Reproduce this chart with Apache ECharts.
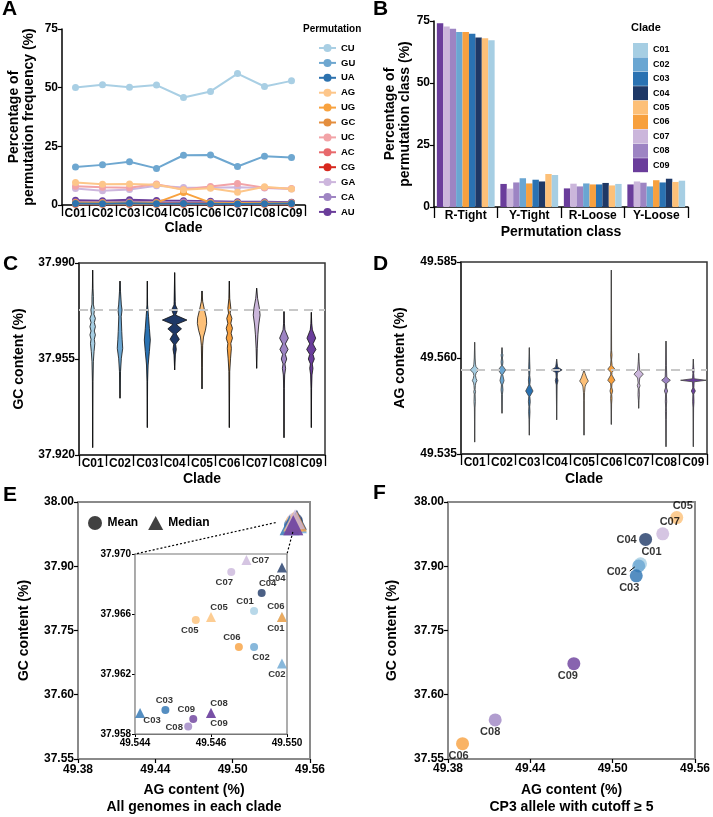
<!DOCTYPE html>
<html><head><meta charset="utf-8">
<script src="https://cdn.jsdelivr.net/npm/echarts@6/dist/echarts.min.js"></script>
<style>html,body{margin:0;padding:0;background:#fff}#c{width:713px;height:817px}</style>
</head><body><div id="c"></div><script>
// ---------- shared ----------
const clades = ['C01','C02','C03','C04','C05','C06','C07','C08','C09'];
const cladeColors = ['#a6cee3','#6aa6d2','#2a72b2','#1e3866','#fdc078','#f7a03e','#cbb6db','#9d84c3','#6a3d9b'];

// ---------- A: permutation frequency ----------
const permNames = ['CU','GU','UA','AG','UG','GC','UC','AC','CG','GA','CA','AU'];
const permColors = ['#a9cfe4','#6ea7d0','#2d72ae','#fdc68a','#f8a23f','#e48e3e','#f2a3a7','#e8696c','#d7281e','#cdb6dd','#9f85c3','#6a3d9a'];
const freqCU = [50.1, 51.2, 50.2, 51.1, 45.8, 48.4, 56.0, 50.5, 52.9];
const freqGU = [16.2, 17.1, 18.4, 15.6, 21.2, 21.3, 16.4, 20.8, 20.2];
const freqUA = [0.6, 0.5, 0.7, 0.5, 0.6, 0.5, 0.4, 0.5, 0.6];
const freqAG = [9.6, 8.8, 9.0, 8.6, 6.5, 7.1, 5.4, 7.8, 6.8];
const freqUG = [1.0, 1.0, 1.0, 1.0, 5.3, 1.0, 0.8, 0.8, 0.8];
const freqGC = [0.5, 0.4, 0.5, 0.4, 0.5, 0.4, 0.5, 0.4, 0.5];
const freqUC = [8.0, 7.6, 7.4, 8.9, 6.6, 7.9, 9.2, 7.4, 7.0];
const freqAC = [1.0, 0.8, 0.9, 0.8, 0.9, 0.8, 0.7, 0.8, 0.7];
const freqCG = [0.3, 0.3, 0.3, 0.3, 0.3, 0.3, 0.3, 0.3, 0.3];
const freqGA = [7.0, 6.1, 6.6, 8.2, 7.5, 7.4, 7.6, 7.2, 6.8];
const freqCA = [1.3, 1.2, 1.4, 1.2, 1.3, 1.2, 1.0, 1.1, 1.0];
const freqAU = [2.0, 1.8, 2.2, 1.9, 1.8, 1.6, 1.4, 1.4, 1.2];
const permValues = [freqCU, freqGU, freqUA, freqAG, freqUG, freqGC, freqUC, freqAC, freqCG, freqGA, freqCA, freqAU];

// ---------- B: permutation class ----------
const permClasses = ['R-Tight','Y-Tight','R-Loose','Y-Loose'];
const classC01 = [67.2, 12.9, 9.3, 10.6];
const classC02 = [70.6, 11.6, 9.5, 8.3];
const classC03 = [69.9, 11.0, 9.1, 9.9];
const classC04 = [68.3, 10.3, 9.7, 11.4];
const classC05 = [68.0, 13.3, 8.7, 10.1];
const classC06 = [70.6, 9.5, 9.1, 10.8];
const classC07 = [72.8, 7.4, 9.4, 10.3];
const classC08 = [71.9, 9.9, 8.3, 9.8];
const classC09 = [74.1, 9.3, 7.5, 9.1];
const classValues = [classC01, classC02, classC03, classC04, classC05, classC06, classC07, classC08, classC09];
const barOrder = [8, 6, 7, 1, 5, 2, 3, 4, 0];

// ---------- C: GC content violins [value, relative half width] ----------
const gcRef = 37.9728;
const gcTicks = [37.920, 37.955, 37.990];
const gcC01 = [[37.9874,0],[37.9808,0.02],[37.9777,0.05],[37.9750,0.05],[37.9729,0.13],[37.9713,0.09],[37.9698,0.2],[37.9683,0.12],[37.9668,0.2],[37.9652,0.12],[37.9638,0.2],[37.9622,0.12],[37.9607,0.16],[37.9577,0.1],[37.9540,0.05],[37.9467,0.02],[37.9227,0]];
const gcC02 = [[37.9834,0],[37.9795,0.04],[37.9747,0.1],[37.9729,0.15],[37.9704,0.09],[37.9650,0.13],[37.9620,0.16],[37.9589,0.2],[37.9553,0.1],[37.9504,0.04],[37.9407,0]];
const gcC03 = [[37.9834,0],[37.9747,0.02],[37.9704,0.09],[37.9662,0.15],[37.9619,0.22],[37.9577,0.15],[37.9528,0.06],[37.9467,0.02],[37.9300,0]];
const gcC04 = [[37.9865,0],[37.9760,0.04],[37.9747,0.05],[37.9729,0.22],[37.9710,0.07],[37.9692,0.9],[37.9676,0.12],[37.9660,0.5],[37.9642,0.1],[37.9622,0.34],[37.9604,0.07],[37.9585,0.12],[37.9565,0.05],[37.9510,0]];
const gcC05 = [[37.9798,0],[37.9760,0.05],[37.9729,0.18],[37.9700,0.32],[37.9680,0.34],[37.9655,0.25],[37.9630,0.11],[37.9600,0.05],[37.9520,0.02],[37.9441,0]];
const gcC06 = [[37.9834,0],[37.9771,0.03],[37.9735,0.11],[37.9717,0.06],[37.9698,0.19],[37.9680,0.11],[37.9662,0.23],[37.9644,0.13],[37.9626,0.23],[37.9607,0.11],[37.9589,0.15],[37.9553,0.09],[37.9504,0.03],[37.9300,0]];
const gcC07 = [[37.9808,0],[37.9771,0.07],[37.9735,0.2],[37.9710,0.25],[37.9674,0.15],[37.9638,0.09],[37.9589,0.04],[37.9516,0]];
const gcC08 = [[37.9723,0],[37.9680,0.03],[37.9656,0.07],[37.9626,0.32],[37.9605,0.1],[37.9585,0.3],[37.9567,0.1],[37.9550,0.2],[37.9532,0.07],[37.9516,0.12],[37.9492,0.05],[37.9443,0.02],[37.9263,0]];
const gcC09 = [[37.9720,0],[37.9680,0.03],[37.9656,0.08],[37.9626,0.32],[37.9605,0.12],[37.9585,0.34],[37.9567,0.12],[37.9550,0.22],[37.9532,0.07],[37.9516,0.12],[37.9492,0.05],[37.9443,0.02],[37.9300,0]];
const gcViolins = [gcC01, gcC02, gcC03, gcC04, gcC05, gcC06, gcC07, gcC08, gcC09];

// ---------- D: AG content violins ----------
const agRef = 49.5570;
const agTicks = [49.535, 49.560, 49.585];
const agC01 = [[49.5641,0],[49.5600,0.03],[49.5584,0.06],[49.5577,0.1],[49.5569,0.32],[49.5561,0.1],[49.5554,0.06],[49.5547,0.1],[49.5541,0.17],[49.5535,0.08],[49.5528,0.05],[49.5518,0.03],[49.5512,0.07],[49.5506,0.03],[49.5486,0.05],[49.5470,0.02],[49.5381,0]];
const agC02 = [[49.5627,0],[49.5612,0.03],[49.5608,0.07],[49.5600,0.03],[49.5590,0.07],[49.5580,0.04],[49.5569,0.27],[49.5557,0.05],[49.5541,0.15],[49.5530,0.04],[49.5517,0.07],[49.5505,0.03],[49.5456,0]];
const agC03 = [[49.5627,0],[49.5590,0.03],[49.5569,0.05],[49.5555,0.03],[49.5543,0.07],[49.5530,0.04],[49.5514,0.27],[49.5500,0.04],[49.5486,0.07],[49.5473,0.03],[49.5460,0.05],[49.5440,0.02],[49.5399,0]];
const agC04 = [[49.5597,0],[49.5585,0.04],[49.5576,0.08],[49.5569,0.4],[49.5562,0.06],[49.5550,0.04],[49.5541,0.1],[49.5530,0.03],[49.5439,0]];
const agC05 = [[49.5569,0],[49.5560,0.08],[49.5548,0.2],[49.5540,0.32],[49.5532,0.15],[49.5525,0.08],[49.5510,0.04],[49.5490,0.02],[49.5399,0]];
const agC06 = [[49.5829,0],[49.5620,0.02],[49.5608,0.05],[49.5595,0.02],[49.5580,0.06],[49.5571,0.26],[49.5563,0.05],[49.5556,0.04],[49.5542,0.26],[49.5533,0.05],[49.5524,0.03],[49.5514,0.1],[49.5505,0.03],[49.5495,0.05],[49.5480,0.02],[49.5427,0]];
const agC07 = [[49.5612,0],[49.5590,0.03],[49.5568,0.08],[49.5558,0.34],[49.5548,0.08],[49.5535,0.04],[49.5528,0.1],[49.5520,0.03],[49.5504,0.05],[49.5490,0.02],[49.5469,0]];
const agC08 = [[49.5644,0],[49.5580,0.03],[49.5550,0.06],[49.5542,0.32],[49.5534,0.05],[49.5522,0.04],[49.5514,0.12],[49.5506,0.03],[49.5486,0.05],[49.5470,0.02],[49.5460,0.04],[49.5440,0.02],[49.5369,0]];
const agC09 = [[49.5597,0],[49.5575,0.03],[49.5569,0.06],[49.5560,0.03],[49.5546,0.06],[49.5542,0.93],[49.5538,0.06],[49.5522,0.04],[49.5514,0.15],[49.5506,0.03],[49.5486,0.05],[49.5470,0.02],[49.5369,0]];
const agViolins = [agC01, agC02, agC03, agC04, agC05, agC06, agC07, agC08, agC09];

// ---------- E: mean / median per clade ----------
const meanAG   = [49.5487, 49.5487, 49.5452, 49.5490, 49.5464, 49.5481, 49.5478, 49.5461, 49.5463];
const meanGC   = [37.9662, 37.9638, 37.9596, 37.9674, 37.9656, 37.9638, 37.9688, 37.9585, 37.9590];
const medianAG = [49.5498, 49.5498, 49.5442, 49.5498, 49.5470, 49.5498, 49.5484, 49.5470, 49.5470];
const medianGC = [37.9658, 37.9627, 37.9594, 37.9691, 37.9658, 37.9658, 37.9696, 37.9594, 37.9594];
const outerGCTicks = [37.55, 37.6625, 37.775, 37.8875, 38.00];
const outerGCLabels = ['37.55', '37.60', '37.75', '37.90', '38.00'];
const insetAGRange = [49.544, 49.550];
const insetGCRange = [37.958, 37.970];
const insetAGTicks = [49.544, 49.547, 49.550];
const insetAGLabels = ['49.544', '49.546', '49.550'];
const insetGCTicks = [37.958, 37.962, 37.966, 37.970];

// ---------- F: CP3 allele ----------
const cp3AG = [49.5203, 49.5190, 49.5172, 49.5240, 49.5467, 49.3906, 49.5365, 49.4144, 49.4717];
const cp3GC = [37.8918, 37.8880, 37.8707, 37.9345, 37.9727, 37.5768, 37.9442, 37.6184, 37.7169];

// ---------- label placement (style only) ----------
const meanLabelOffset   = [[-9,-10],[7,10],[-1,-10],[6,-10],[-6,10],[-7,-10],[-7,10],[-14,1],[-7,-10]];
const medianLabelOffset = [[-6,11],[-5,11],[12,7],[-5,11],[8,-10],[-6,-11],[14,0],[8,-10],[8,10]];
const cp3LabelOffset    = [[11,-12],[-22,6],[-7,12],[-19,1],[6,-12],[-4,12],[7,-12],[-5,12],[-6,12]];

// ---------- helpers ----------
const FONT = 'Liberation Sans, Arial, Helvetica, sans-serif';
const B = (size) => ({fontFamily: FONT, fontWeight: 'bold', color: '#000', fontSize: size});
const lookup = (vals, labs) => v => { for (let k = 0; k < vals.length; k++) if (Math.abs(vals[k] - v) < 1e-7) return labs[k]; return ''; };

function catX(grid, data, name, gap, line) {
  return {gridIndex: grid, type: 'category', data: data,
    axisLine: {lineStyle: {color: line, width: 1.5}},
    axisTick: {show: true, interval: 0, length: 11, lineStyle: {color: '#000', width: 1.3}},
    axisLabel: Object.assign(B(12), {interval: 0, margin: 3}),
    name: name, nameLocation: 'middle', nameGap: gap, nameTextStyle: B(14)};
}
function valY(grid, opts, name, gap, line) {
  return Object.assign({gridIndex: grid, type: 'value', splitLine: {show: false},
    axisLine: {show: true, lineStyle: {color: line, width: 1.5}},
    axisTick: {show: true, length: 4, lineStyle: {color: '#000', width: 1.2}},
    axisLabel: Object.assign(B(12), {margin: 4}),
    name: name, nameLocation: 'middle', nameGap: gap, nameTextStyle: Object.assign(B(14), {lineHeight: 15})}, opts);
}

function violinSeries(profiles, xi, yi, stroke) {
  return {
    type: 'custom', xAxisIndex: xi, yAxisIndex: yi, z: 3, silent: true,
    encode: {x: 0, y: 1},
    data: profiles.map((p, i) => [i, p[0][0]]),
    renderItem(params, api) {
      const i = api.value(0);
      const prof = profiles[i];
      const band = api.size([1, 0])[0];
      const right = [], left = [];
      prof.forEach(([v, d]) => {
        const p = api.coord([i, v]);
        right.push([p[0] + d * band / 2, p[1]]);
        left.push([p[0] - d * band / 2, p[1]]);
      });
      const top = api.coord([i, prof[0][0]]);
      const bot = api.coord([i, prof[prof.length - 1][0]]);
      return {type: 'group', children: [
        {type: 'line', shape: {x1: top[0], y1: top[1], x2: bot[0], y2: bot[1]}, style: {stroke: stroke, lineWidth: 1}},
        {type: 'polygon', shape: {points: right.concat(left.reverse())}, style: {fill: cladeColors[i], stroke: stroke, lineWidth: 0.8}}
      ]};
    }
  };
}
function refLine(xi, yi, val) {
  return {type: 'line', xAxisIndex: xi, yAxisIndex: yi, data: [], z: 1, silent: true,
    markLine: {silent: true, symbol: 'none', precision: 5, label: {show: false},
      lineStyle: {type: [9, 6], color: '#c8c8c8', width: 2}, data: [{yAxis: val}]}};
}
function scatterItems(xs, ys, offsets, showLabel, fontSize) {
  return xs.map((x, i) => ({
    value: [x, ys[i]],
    itemStyle: {color: cladeColors[i]},
    label: {show: showLabel, formatter: clades[i], position: 'inside', offset: offsets ? offsets[i] : [0, 0],
      fontFamily: FONT, fontWeight: 'bold', fontSize: fontSize, color: '#000'}
  }));
}

const chart = echarts.init(document.getElementById('c'), null, {renderer: 'canvas'});

const series = [];
permNames.forEach((n, k) => series.push({
  name: n, type: 'line', xAxisIndex: 0, yAxisIndex: 0, data: permValues[k],
  symbol: 'circle', symbolSize: 7, color: permColors[k],
  lineStyle: {width: 2, color: permColors[k]}, itemStyle: {color: permColors[k]}, z: 20 - k
}));
barOrder.forEach(ci => series.push({
  name: clades[ci], type: 'bar', xAxisIndex: 1, yAxisIndex: 1, data: classValues[ci],
  itemStyle: {color: cladeColors[ci]}, color: cladeColors[ci], barGap: '0%', barCategoryGap: '9%'
}));
series.push(refLine(2, 2, gcRef));
series.push(violinSeries(gcViolins, 2, 2, '#111'));
series.push(refLine(3, 3, agRef));
series.push(violinSeries(agViolins, 3, 3, '#444'));
// E main
series.push({name: 'Mean', type: 'scatter', xAxisIndex: 4, yAxisIndex: 4, symbol: 'circle', symbolSize: 14,
  itemStyle: {color: '#111'}, data: scatterItems(meanAG, meanGC, null, false, 9), z: 4, clip: false});
series.push({name: 'Median', type: 'scatter', xAxisIndex: 4, yAxisIndex: 4, symbol: 'triangle', symbolSize: 20,
  itemStyle: {color: '#111'}, data: scatterItems(medianAG, medianGC, null, false, 9), z: 5, clip: false});
// E inset
series.push({name: 'insetMean', type: 'scatter', xAxisIndex: 5, yAxisIndex: 5, symbol: 'circle', symbolSize: 8,
  data: scatterItems(meanAG, meanGC, meanLabelOffset, true, 9.5), z: 6, clip: false});
series.push({name: 'insetMedian', type: 'scatter', xAxisIndex: 5, yAxisIndex: 5, symbol: 'triangle', symbolSize: 10,
  data: scatterItems(medianAG, medianGC, medianLabelOffset, true, 9.5), z: 7, clip: false});
// F
series.push({name: 'cp3', type: 'scatter', xAxisIndex: 6, yAxisIndex: 6, symbol: 'circle', symbolSize: 13,
  data: scatterItems(cp3AG, cp3GC, cp3LabelOffset, true, 11), z: 6, clip: false});

const frameDark = '#333';
const frameGrey = '#8a8a8a';

const option = {
  animation: false,
  backgroundColor: '#fff',
  textStyle: {fontFamily: FONT},
  grid: [
    {left: 62, top: 29, width: 243, height: 176},
    {left: 434, top: 21, width: 254, height: 186},
    {left: 79, top: 263, width: 246, height: 192, show: true, borderColor: frameDark, borderWidth: 1.5},
    {left: 461, top: 262, width: 246, height: 192, show: true, borderColor: frameDark, borderWidth: 1.5},
    {left: 78, top: 502, width: 232, height: 263, show: true, borderColor: frameGrey, borderWidth: 2},
    {left: 135, top: 554, width: 152, height: 180, show: true, borderColor: '#777', borderWidth: 1.2, backgroundColor: '#fff', z: 3},
    {left: 448, top: 502, width: 248, height: 263, show: true, borderColor: frameGrey, borderWidth: 2}
  ],
  xAxis: [
    catX(0, clades, 'Clade', 16, '#000'),
    catX(1, permClasses, 'Permutation class', 18, '#000'),
    catX(2, clades, 'Clade', 17, frameDark),
    catX(3, clades, 'Clade', 18, frameDark),
    {gridIndex: 4, type: 'value', min: 49.38, max: 49.56, interval: 0.06, splitLine: {show: false},
      axisLine: {lineStyle: {color: frameGrey, width: 2}},
      axisTick: {length: 4, lineStyle: {color: '#000', width: 1.2}},
      axisLabel: Object.assign(B(12), {margin: 5, formatter: v => v.toFixed(2)}),
      name: 'AG content (%)\nAll genomes in each clade', nameLocation: 'middle', nameGap: 23,
      nameTextStyle: Object.assign(B(14), {lineHeight: 17})},
    {gridIndex: 5, type: 'value', min: insetAGRange[0], max: insetAGRange[1], splitLine: {show: false},
      axisLine: {lineStyle: {color: '#777', width: 1.2}},
      axisTick: {length: 3, customValues: insetAGTicks, lineStyle: {color: '#000'}},
      axisLabel: Object.assign(B(10), {margin: 4, customValues: insetAGTicks, formatter: lookup(insetAGTicks, insetAGLabels)})},
    {gridIndex: 6, type: 'value', min: 49.38, max: 49.56, interval: 0.06, splitLine: {show: false},
      axisLine: {lineStyle: {color: frameGrey, width: 2}},
      axisTick: {length: 4, lineStyle: {color: '#000', width: 1.2}},
      axisLabel: Object.assign(B(12), {margin: 4, formatter: v => v.toFixed(2)}),
      name: 'AG content (%)\nCP3 allele with cutoff \u2265 5', nameLocation: 'middle', nameGap: 23,
      nameTextStyle: Object.assign(B(14), {lineHeight: 17})}
  ],
  yAxis: [
    valY(0, {min: 0, max: 75, interval: 25}, 'Percentage of\npermutation frequency (%)', 25, '#000'),
    valY(1, {min: 0, max: 75, interval: 25}, 'Percentage of\npermutation class (%)', 21, '#000'),
    valY(2, {min: gcTicks[0], max: gcTicks[2],
      axisTick: {show: true, length: 4, customValues: gcTicks, lineStyle: {color: '#000', width: 1.2}},
      axisLabel: Object.assign(B(12), {margin: 4, customValues: gcTicks, formatter: v => v.toFixed(3)})},
      'GC content (%)', 52, frameDark),
    valY(3, {min: agTicks[0], max: agTicks[2],
      axisTick: {show: true, length: 4, customValues: agTicks, lineStyle: {color: '#000', width: 1.2}},
      axisLabel: Object.assign(B(12), {margin: 4, customValues: agTicks, formatter: v => v.toFixed(3)})},
      'AG content (%)', 53, frameDark),
    valY(4, {min: outerGCTicks[0], max: outerGCTicks[4],
      axisLine: {show: true, lineStyle: {color: frameGrey, width: 2}},
      axisTick: {show: true, length: 4, customValues: outerGCTicks, lineStyle: {color: '#000', width: 1.2}},
      axisLabel: Object.assign(B(12), {margin: 4, customValues: outerGCTicks, formatter: lookup(outerGCTicks, outerGCLabels)})},
      'GC content (%)', 46, frameGrey),
    valY(5, {min: insetGCRange[0], max: insetGCRange[1],
      axisLine: {show: true, lineStyle: {color: '#777', width: 1.2}},
      axisTick: {show: true, length: 3, customValues: insetGCTicks, lineStyle: {color: '#000'}},
      axisLabel: Object.assign(B(10), {margin: 4, customValues: insetGCTicks, formatter: v => v.toFixed(3)})},
      '', 0, '#777'),
    valY(6, {min: outerGCTicks[0], max: outerGCTicks[4],
      axisLine: {show: true, lineStyle: {color: frameGrey, width: 2}},
      axisTick: {show: true, length: 4, customValues: outerGCTicks, lineStyle: {color: '#000', width: 1.2}},
      axisLabel: Object.assign(B(12), {margin: 4, customValues: outerGCTicks, formatter: lookup(outerGCTicks, outerGCLabels)})},
      'GC content (%)', 48, frameGrey)
  ],
  legend: [
    {data: permNames, orient: 'vertical', left: 313, top: 38, itemWidth: 17, itemHeight: 10, itemGap: 4.9,
      textStyle: B(9.5), selectedMode: false},
    {data: clades, orient: 'vertical', left: 628, top: 38, itemWidth: 15, itemHeight: 14, itemGap: 0.4,
      icon: 'rect', textStyle: B(9), selectedMode: false},
    {data: ['Mean', 'Median'], orient: 'horizontal', left: 83, top: 511, itemWidth: 15, itemHeight: 14, itemGap: 10,
      textStyle: B(12), selectedMode: false}
  ],
  series: series
};
chart.setOption(option);

// graphics: panel letters, legend titles, zoom connector lines, label leader
const toMain = v => chart.convertToPixel({xAxisIndex: 4, yAxisIndex: 4}, v);
const toInset = v => chart.convertToPixel({xAxisIndex: 5, yAxisIndex: 5}, v);
const p1 = toMain([Math.min(...medianAG, ...meanAG), (insetGCRange[0] + insetGCRange[1]) / 2]);
const p2 = toMain([Math.max(...medianAG, ...meanAG), insetGCRange[0]]);
const q1 = toInset([insetAGRange[0], insetGCRange[1]]);
const q2 = toInset([insetAGRange[1], insetGCRange[1]]);
const f2 = chart.convertToPixel({xAxisIndex: 6, yAxisIndex: 6}, [cp3AG[1], cp3GC[1]]);
const letter = (id, t, x, y) => ({id: id, type: 'text', left: x, top: y, style: {text: t, font: 'bold 21px ' + FONT, fill: '#000'}});
chart.setOption({graphic: [
  letter('lA', 'A', 2, -1), letter('lB', 'B', 373, -1), letter('lC', 'C', 3, 254),
  letter('lD', 'D', 373, 254), letter('lE', 'E', 3, 485), letter('lF', 'F', 373, 483),
  {id: 'tA', type: 'text', left: 303, top: 24, style: {text: 'Permutation', font: 'bold 10px ' + FONT, fill: '#000'}},
  {id: 'tB', type: 'text', left: 631, top: 22, style: {text: 'Clade', font: 'bold 11px ' + FONT, fill: '#000'}},
  {id: 'd1', type: 'line', z: 10, shape: {x1: p1[0] - 14, y1: p1[1], x2: q1[0], y2: q1[1]}, style: {stroke: '#000', lineWidth: 1.2, lineDash: [2, 2]}},
  {id: 'd2', type: 'line', z: 10, shape: {x1: p2[0] - 4, y1: p2[1] + 6, x2: q2[0], y2: q2[1]}, style: {stroke: '#000', lineWidth: 1.2, lineDash: [2, 2]}},
  {id: 'lead', type: 'line', z: 10, shape: {x1: f2[0] - 4, y1: f2[1] + 1, x2: f2[0] - 9, y2: f2[1] + 5}, style: {stroke: '#000', lineWidth: 1}}
]});
</script></body></html>
